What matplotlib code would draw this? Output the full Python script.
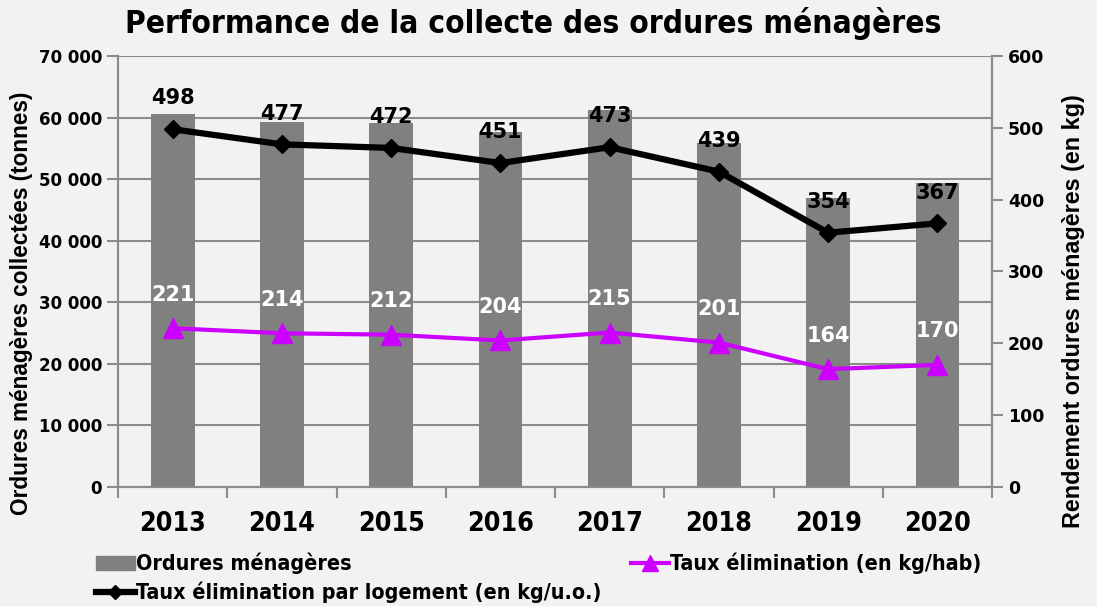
import matplotlib.pyplot as plt
import numpy as np
from matplotlib.ticker import FuncFormatter, FixedLocator
from matplotlib.lines import Line2D
from matplotlib.patches import Patch

# Données
annees = ['2013', '2014', '2015', '2016', '2017', '2018', '2019', '2020']
tonnages = [60650, 59200, 59100, 57600, 61200, 55800, 47000, 49300]
taux_logement = [498, 477, 472, 451, 473, 439, 354, 367]
taux_hab = [221, 214, 212, 204, 215, 201, 164, 170]

# Polices : étroite pour titre, années et légende
COND = dict(family='DejaVu Sans', stretch='condensed', weight='bold')
ARIAL = dict(family='Liberation Sans', weight='bold')
DEJA = dict(family='DejaVu Sans', weight='bold')
FOND = '#f2f2f2'
GRIS = '#808080'
AXE = '#8c8c8c'
VIOLET = '#cc00ff'

fig = plt.figure(figsize=(10.97, 6.06), dpi=100, facecolor=FOND)
ax = fig.add_axes([0.1076, 0.1964, 0.7967, 0.7112])
ax.set_facecolor(FOND)
x = np.arange(len(annees))

# Barres : tonnages collectés
ax.bar(x, tonnages, width=0.4, color=GRIS, zorder=2)
ax.set_ylim(0, 70000)
ax.set_xlim(-0.5, len(annees) - 0.5)
ax.yaxis.set_major_locator(FixedLocator(range(0, 70001, 10000)))
ax.yaxis.set_major_formatter(FuncFormatter(lambda v, p: f'{int(v):,}'.replace(',', ' ')))
ax.grid(axis='y', color=AXE, linewidth=1.5, zorder=0)
ax.set_axisbelow(True)

ax.set_xticks(x)
ax.set_xticklabels(annees, fontsize=19.3, **COND)
ax.set_xticks(np.arange(-0.5, len(annees)), minor=True)
ax.tick_params(axis='x', which='major', length=0, pad=17)
ax.tick_params(axis='x', which='minor', length=8, color=AXE, width=1.5)
ax.tick_params(axis='y', length=8, color=AXE, width=1.5)
for lab in ax.get_yticklabels():
    lab.set_fontproperties(DEJA)
    lab.set_fontsize(12)

ax.spines['top'].set_visible(False)
for s in ['left', 'right', 'bottom']:
    ax.spines[s].set_color(AXE)
    ax.spines[s].set_linewidth(1.5)

ax.set_ylabel('Ordures ménagères collectées (tonnes)', fontsize=16.3, **ARIAL)
ax.yaxis.set_label_coords(-0.097, 0.427)

# Axe secondaire : rendements
ax2 = ax.twinx()
ax2.set_ylim(0, 600)
ax2.yaxis.set_major_locator(FixedLocator(range(0, 601, 100)))
ax2.tick_params(axis='y', length=8, color=AXE, width=1.5)
for lab in ax2.get_yticklabels():
    lab.set_fontproperties(DEJA)
    lab.set_fontsize(12.5)
ax2.spines['top'].set_visible(False)
for s in ['left', 'right', 'bottom']:
    ax2.spines[s].set_color(AXE)
    ax2.spines[s].set_linewidth(1.5)
ax2.set_ylabel('Rendement ordures ménagères (en kg)', fontsize=16.8, **ARIAL)
ax2.yaxis.set_label_coords(1.080, 0.408)

ax2.plot(x, taux_logement, color='black', linewidth=4.5, marker='D',
         markersize=9, zorder=3)
ax2.plot(x, taux_hab, color=VIOLET, linewidth=3, marker='^',
         markersize=14, zorder=3)

for xi, v in zip(x, taux_logement):
    ax2.annotate(str(v), (xi, v), xytext=(0, 15), textcoords='offset points',
                 ha='center', va='bottom', fontsize=15, color='black', **DEJA)
for xi, v in zip(x, taux_hab):
    ax2.annotate(str(v), (xi, v), xytext=(0, 17), textcoords='offset points',
                 ha='center', va='bottom', fontsize=15, color='white', **DEJA)

fig.text(0.486, 0.962, 'Performance de la collecte des ordures ménagères',
         ha='center', va='center', fontsize=22.7, **COND)

handles = [Patch(color=GRIS),
           Line2D([], [], color='black', linewidth=4.5, marker='D', markersize=7),
           Line2D([], [], color=VIOLET, linewidth=3, marker='^', markersize=11)]
labels = ['Ordures ménagères',
          'Taux élimination par logement (en kg/u.o.)',
          'Taux élimination (en kg/hab)']
fig.legend(handles, labels, ncol=2, loc='upper left',
           bbox_to_anchor=(96 / 1097, 1 - 553 / 606),
           frameon=False, prop=dict(size=15.4, **COND), borderpad=0,
           handlelength=1.8, handleheight=0.6, handletextpad=0.05,
           columnspacing=1.4, labelspacing=0.35, borderaxespad=0)

fig.savefig('out.png', dpi=100, facecolor=FOND)
